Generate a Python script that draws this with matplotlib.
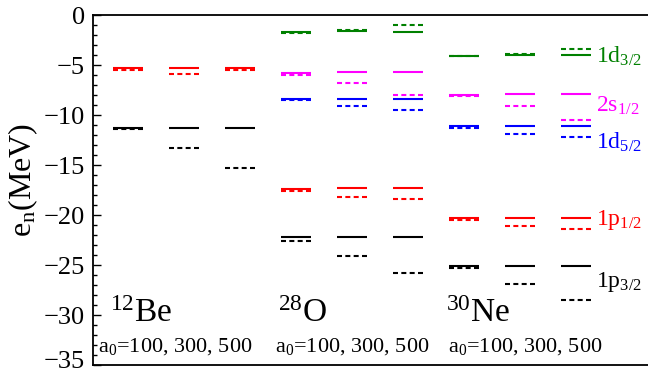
import numpy as np
import matplotlib
matplotlib.use("Agg")
import matplotlib.pyplot as plt
import matplotlib.transforms as mtransforms

plt.rcParams["font.family"] = ["Liberation Serif", "DejaVu Serif"]
plt.rcParams["mathtext.fontset"] = "custom"
plt.rcParams["mathtext.rm"] = "Liberation Serif"
plt.rcParams["mathtext.it"] = "Liberation Serif:italic"

# columns: 12Be, 28O, 30Ne, each with a0 = 100, 300, 500
# levels (MeV): solid and dashed values per column
states = ["1p3/2", "1p1/2", "1d5/2", "2s1/2", "1d3/2"]
colors = ["black", "red", "blue", "magenta", "green"]

# Be only has 1p3/2 and 1p1/2
be_solid = {
    "1p3/2": [-11.3, -11.27, -11.27],
    "1p1/2": [-5.33, -5.27, -5.33],
}
be_dashed = {
    "1p3/2": [-11.43, -13.27, -15.3],
    "1p1/2": [-5.47, -5.9, -5.53],
}
o_solid = {
    "1p3/2": [-22.17, -22.23, -22.23],
    "1p1/2": [-17.4, -17.33, -17.33],
    "1d5/2": [-8.4, -8.37, -8.37],
    "2s1/2": [-5.83, -5.73, -5.73],
    "1d3/2": [-1.73, -1.63, -1.67],
}
o_dashed = {
    "1p3/2": [-22.57, -24.1, -25.8],
    "1p1/2": [-17.57, -18.23, -18.43],
    "1d5/2": [-8.53, -9.13, -9.47],
    "2s1/2": [-5.97, -6.77, -8.03],
    "1d3/2": [-1.8, -1.5, -1.0],
}
ne_solid = {
    "1p3/2": [-25.07, -25.07, -25.07],
    "1p1/2": [-20.33, -20.27, -20.27],
    "1d5/2": [-11.1, -11.1, -11.13],
    "2s1/2": [-7.97, -7.93, -7.93],
    "1d3/2": [-4.07, -4.03, -4.03],
}
ne_dashed = {
    "1p3/2": [-25.3, -26.87, -28.47],
    "1p1/2": [-20.5, -21.13, -21.4],
    "1d5/2": [-11.3, -11.9, -12.23],
    "2s1/2": [-8.1, -9.07, -10.5],
    "1d3/2": [-4.13, -3.9, -3.4],
}
nuclei = [r"$^{12}$Be", r"$^{28}$O", r"$^{30}$Ne"]
a0_text = r"a$_0$=100, 300, 500"
state_labels = [r"1p$_{3/2}$", r"1p$_{1/2}$", r"1d$_{5/2}$", r"2s$_{1/2}$", r"1d$_{3/2}$"]
label_y = [-27.2, -21.0, -13.4, -9.7, -4.8]

fig = plt.figure(figsize=(6.48, 3.74), dpi=100)
ax = fig.add_axes([93 / 648, 9 / 374, 556 / 648, 350 / 374])

w = 0.536
for g, (sol, das) in enumerate([(be_solid, be_dashed), (o_solid, o_dashed), (ne_solid, ne_dashed)]):
    for s, c in zip(states, colors):
        if s not in sol:
            continue
        for k in range(3):
            x0 = g * 3 + k
            ax.plot([x0, x0 + w], [sol[s][k]] * 2, color=c, lw=1.5, solid_capstyle="butt")
            ax.plot([x0, x0 + w], [das[s][k]] * 2, color=c, lw=1.5,
                    linestyle=(0, (2.4, 1.6)), dash_capstyle="butt")

for g, name in enumerate(nuclei):
    ax.text(g * 3 - 0.05, -30.7, name, fontsize=24, ha="left", va="baseline")
a0_x = [-0.26, 2.89, 5.98]
for x in a0_x:
    ax.text(x, -33.7, a0_text, fontsize=16, ha="left", va="baseline")

for lab, y, c in zip(state_labels, label_y, colors):
    ax.text(8.62, y, lab, fontsize=17, color=c, ha="left", va="baseline")

ax.set_xlim(-0.357, -0.357 + 556 / 56)
ax.set_ylim(-35, 0)
ax.set_xticks([])
ax.set_yticks(np.arange(-35, 1, 5))
ax.set_yticks(np.arange(-35, 1, 1), minor=True)
ax.tick_params(axis="y", which="major", direction="in", length=6, width=1, labelsize=19, pad=6)
ax.tick_params(axis="y", which="minor", direction="in", length=3, width=1)
ax.spines["right"].set_visible(False)
for sp in ["left", "top", "bottom"]:
    ax.spines[sp].set_linewidth(1.3)
ax.set_ylabel(r"e$_{\rm n}$(MeV)", fontsize=23)
ax.yaxis.set_label_coords(-0.095, 0.53)

# lift the bottom tick label a little so it stays inside the figure
fig.canvas.draw()
bottom_label = ax.get_yticklabels()[0]
bottom_label.set_transform(bottom_label.get_transform()
                           + mtransforms.ScaledTranslation(0, 4 / 72, fig.dpi_scale_trans))

fig.savefig("out.png", dpi=100)
